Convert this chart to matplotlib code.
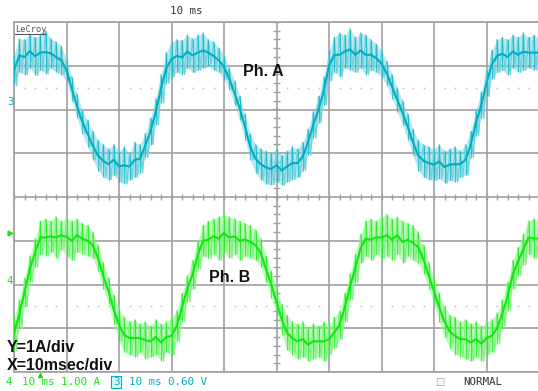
import numpy as np
import matplotlib.pyplot as plt
from matplotlib.lines import Line2D

W, H = 538, 391

# time axis, ms (10 ms/div, 10 divisions)
time_ms = np.arange(0, 101, 1)

# Ph. A (channel 3, cyan) noise envelope, screen divisions
phase_a_upper = np.array([
    3.25, 3.62, 3.60, 3.72, 3.65, 3.70, 3.80, 3.62, 3.55, 3.45,
    3.15, 2.75, 2.35, 2.00, 1.75, 1.50, 1.30, 1.20, 1.10, 1.20,
    1.05, 1.15, 1.00, 1.25, 1.20, 1.45, 1.80, 2.25, 2.80, 3.30,
    3.55, 3.60, 3.58, 3.70, 3.62, 3.70, 3.75, 3.60, 3.55, 3.40,
    3.25, 2.95, 2.65, 2.30, 1.90, 1.45, 1.20, 1.10, 1.05, 1.00,
    1.10, 0.95, 1.05, 1.15, 1.10, 1.25, 1.55, 1.95, 2.30, 2.75,
    3.35, 3.65, 3.75, 3.70, 3.85, 3.65, 3.75, 3.70, 3.60, 3.50,
    3.35, 3.10, 2.80, 2.50, 2.20, 1.90, 1.55, 1.30, 1.20, 1.15,
    1.10, 1.20, 1.05, 1.10, 1.15, 1.05, 1.20, 1.50, 2.00, 2.40,
    2.90, 3.35, 3.60, 3.65, 3.60, 3.70, 3.65, 3.75, 3.65, 3.70,
    3.65])
phase_a_lower = np.array([
    2.55, 2.85, 2.80, 2.95, 2.78, 2.90, 2.82, 2.95, 2.85, 2.80,
    2.65, 2.20, 1.80, 1.45, 1.15, 0.85, 0.60, 0.45, 0.40, 0.50,
    0.35, 0.30, 0.40, 0.45, 0.55, 0.90, 1.20, 1.65, 2.15, 2.60,
    2.75, 2.85, 2.80, 2.95, 2.85, 2.90, 2.95, 3.00, 2.90, 2.85,
    2.70, 2.45, 2.10, 1.75, 1.30, 0.85, 0.55, 0.40, 0.30, 0.28,
    0.35, 0.27, 0.35, 0.40, 0.45, 0.60, 0.95, 1.35, 1.70, 2.10,
    2.65, 2.85, 2.75, 2.95, 2.90, 2.85, 2.95, 2.80, 2.90, 2.85,
    2.75, 2.55, 2.25, 1.95, 1.65, 1.30, 0.95, 0.60, 0.45, 0.40,
    0.38, 0.42, 0.32, 0.38, 0.35, 0.45, 0.50, 0.90, 1.40, 1.80,
    2.30, 2.70, 2.85, 2.90, 2.80, 2.95, 2.85, 2.90, 2.95, 2.90,
    2.95])

# Ph. B (channel 4, green) noise envelope, screen divisions
phase_b_upper = np.array([
    -2.75, -2.35, -1.85, -1.35, -0.95, -0.55, -0.50, -0.55, -0.45, -0.55,
    -0.48, -0.55, -0.50, -0.60, -0.65, -0.80, -1.10, -1.50, -1.85, -2.25,
    -2.55, -2.75, -2.85, -2.80, -2.90, -2.85, -2.95, -2.80, -2.90, -2.85,
    -2.75, -2.60, -2.20, -1.80, -1.45, -1.00, -0.65, -0.55, -0.50, -0.45,
    -0.40, -0.45, -0.50, -0.55, -0.60, -0.65, -0.75, -0.95, -1.35, -1.70,
    -2.10, -2.45, -2.70, -2.85, -2.90, -2.85, -3.00, -2.90, -2.95, -2.85,
    -2.90, -2.75, -2.60, -2.20, -1.75, -1.30, -0.85, -0.55, -0.50, -0.55,
    -0.45, -0.40, -0.50, -0.45, -0.55, -0.60, -0.65, -0.80, -1.10, -1.50,
    -1.85, -2.20, -2.50, -2.70, -2.75, -2.85, -2.80, -2.90, -2.85, -2.95,
    -2.85, -2.80, -2.65, -2.35, -1.95, -1.45, -1.15, -0.85, -0.55, -0.50,
    -0.55])
phase_b_lower = np.array([
    -3.50, -3.00, -2.50, -1.95, -1.60, -1.30, -1.35, -1.25, -1.40, -1.20,
    -1.35, -1.45, -1.25, -1.30, -1.35, -1.40, -1.70, -2.10, -2.45, -2.90,
    -3.30, -3.55, -3.60, -3.65, -3.55, -3.70, -3.65, -3.60, -3.75, -3.55,
    -3.60, -3.30, -2.85, -2.40, -2.10, -1.65, -1.35, -1.40, -1.30, -1.45,
    -1.25, -1.40, -1.30, -1.45, -1.35, -1.40, -1.45, -1.60, -1.95, -2.30,
    -2.70, -3.15, -3.50, -3.60, -3.70, -3.65, -3.75, -3.70, -3.65, -3.75,
    -3.60, -3.45, -3.25, -2.85, -2.35, -1.95, -1.50, -1.35, -1.45, -1.30,
    -1.40, -1.35, -1.45, -1.30, -1.50, -1.35, -1.45, -1.50, -1.75, -2.10,
    -2.45, -2.85, -3.20, -3.45, -3.60, -3.65, -3.70, -3.75, -3.65, -3.75,
    -3.60, -3.55, -3.35, -3.00, -2.60, -2.10, -1.80, -1.55, -1.30, -1.40,
    -1.35])

CYAN = '#00aec2'
CYAN_LIGHT = '#6fd2de'
GREEN = '#10e810'
GREEN_LIGHT = '#7ef57e'
GRID = '#a0a0a0'


def fx(x):
    return x / W


def fy(y):
    return 1 - y / H


fig = plt.figure(figsize=(W / 100, H / 100), dpi=100)
fig.patch.set_facecolor('white')
ax = fig.add_axes([fx(14), fy(372), 525 / W, 350 / H])
ax.set_xlim(0, 100)
ax.set_ylim(-4, 4)

# graticule
ax.set_xticks(np.arange(0, 101, 10))
ax.set_yticks(np.arange(-4, 5, 1))
ax.grid(True, color=GRID, linewidth=1.2)
ax.tick_params(length=0, labelbottom=False, labelleft=False)
for s in ax.spines.values():
    s.set_color(GRID)
    s.set_linewidth(1.2)

# centre cross ticks
minor_t = np.arange(0, 101, 2)
ax.vlines(minor_t, -0.07, 0.07, color=GRID, linewidth=1.0)
minor_v = np.arange(-4, 4.01, 0.2)
ax.hlines(minor_v, 50 - 0.65, 50 + 0.65, color=GRID, linewidth=1.0)

# dotted reference lines
dots_t = np.array([t for t in range(2, 100, 2) if t % 10])
for yv in (2.5, -2.5):
    ax.plot(dots_t, np.full_like(dots_t, yv, dtype=float), 's',
            color='#c0c0c0', markersize=1.2, markeredgewidth=0)


def draw_trace(upper, lower, col, light):
    # noisy band: spikes alternate between the upper and lower envelope
    ax.fill_between(time_ms, lower, upper, color=light, alpha=0.5,
                    linewidth=0, zorder=3)
    zx = np.column_stack([time_ms, time_ms + 0.5]).ravel()[:-1]
    zy = np.column_stack([upper, lower]).ravel()[:-1]
    ax.plot(zx, zy, color=light, linewidth=1.0, zorder=4)
    ax.vlines(time_ms, lower, upper, color=col, linewidth=0.8, alpha=0.7, zorder=4)
    ax.plot(time_ms, (upper + lower) / 2, color=col, linewidth=1.5, zorder=5)


draw_trace(phase_a_upper, phase_a_lower, CYAN, CYAN_LIGHT)
draw_trace(phase_b_upper, phase_b_lower, GREEN, GREEN_LIGHT)

# labels
bold = dict(family='Liberation Sans', fontweight='bold', fontsize=11.5, color='#111111')
fig.text(fx(243), fy(71), 'Ph. A', ha='left', va='center', **bold)
fig.text(fx(209), fy(277), 'Ph. B', ha='left', va='center', **bold)
fig.text(fx(7), fy(347), 'Y=1A/div', ha='left', va='center', **bold)
fig.text(fx(7), fy(365), 'X=10msec/div', ha='left', va='center', **bold)

mono = dict(family='DejaVu Sans Mono', fontsize=7.8)
fig.text(fx(186), fy(11), '10 ms', ha='center', va='center', color='#333333', **mono)
fig.text(fx(15), fy(29), 'LeCroy', ha='left', va='center', color='#555555',
         family='DejaVu Sans Mono', fontsize=6.2)
fig.add_artist(Line2D([fx(15), fx(45)], [fy(34), fy(34)], color='#555555', linewidth=0.8))

# channel markers
fig.text(fx(11), fy(102), '3', ha='center', va='center', color=CYAN, **mono)
fig.text(fx(10), fy(281), '4', ha='center', va='center', color=GREEN, **mono)
fig.add_artist(Line2D([fx(10)], [fy(233)], marker='>', color=GREEN,
                      markersize=3.5, linestyle='none'))
fig.add_artist(Line2D([fx(40)], [fy(375)], marker='^', color=GREEN,
                      markersize=3, linestyle='none'))

# status line
fig.text(fx(9), fy(382), '4', ha='center', va='center', color=GREEN, **mono)
fig.text(fx(22), fy(382), '10 ms 1.00 A', ha='left', va='center', color=GREEN, **mono)
fig.text(fx(116), fy(382), '3', ha='center', va='center', color=CYAN,
         bbox=dict(boxstyle='square,pad=0.12', facecolor='#d8f4f7', edgecolor=CYAN,
                   linewidth=0.8), **mono)
fig.text(fx(129), fy(382), '10 ms 0.60 V', ha='left', va='center', color=CYAN, **mono)
fig.text(fx(440), fy(382), '\u25a1', ha='center', va='center', color='#999999',
         family='DejaVu Sans', fontsize=7)
fig.text(fx(463), fy(382), 'NORMAL', ha='left', va='center', color='#333333', **mono)

fig.savefig('out.png', dpi=100, facecolor='white')
